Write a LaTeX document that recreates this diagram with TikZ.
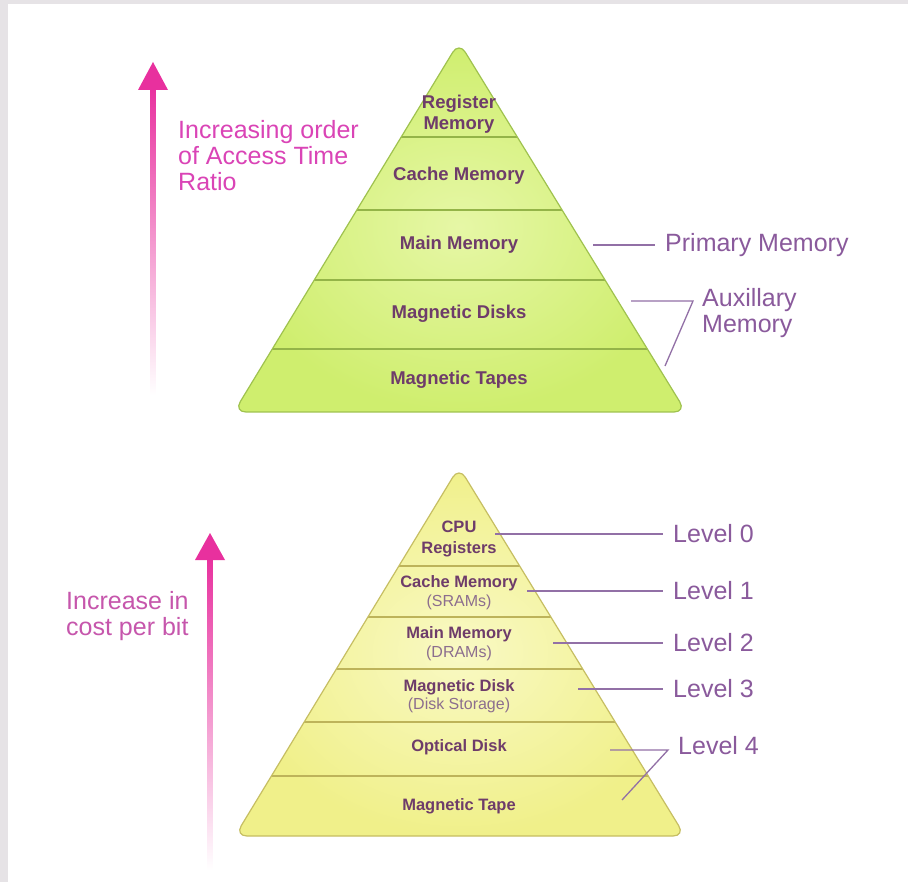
\documentclass[tikz,border=0pt]{standalone}
\usepackage{fontspec}
\setmainfont{Liberation Sans}
\definecolor{framegray}{HTML}{E6E3E6}
\definecolor{limeout}{HTML}{CFEE6E}
\definecolor{limein}{HTML}{E6F7A6}
\definecolor{limeedge}{HTML}{9FC24E}
\definecolor{limeband}{HTML}{94B448}
\definecolor{yelout}{HTML}{F0F08A}
\definecolor{yelin}{HTML}{F9F9C4}
\definecolor{yeledge}{HTML}{C6BE62}
\definecolor{yelband}{HTML}{BDB35A}
\definecolor{tiertext}{HTML}{6E3C6A}
\definecolor{subtext}{HTML}{8C6E8E}
\definecolor{labelpurple}{HTML}{8A5A9C}
\definecolor{leaderpurple}{HTML}{9270A6}
\definecolor{arrowmag}{HTML}{E8309E}
\definecolor{magtext}{HTML}{DA44B6}
\definecolor{magtextb}{HTML}{C656AC}
\tikzset{
  pyrtop/.style={line width=1.2pt, rounded corners=12pt,
    inner color=limein, outer color=limeout},
  pyrbot/.style={line width=1.2pt, rounded corners=12pt,
    inner color=yelin, outer color=yelout},
  bandtop/.style={draw=limeband, line width=1.3pt},
  bandbot/.style={draw=yelband, line width=1.3pt},
  tiertop/.style={font=\fontsize{18.5}{21}\selectfont\bfseries, text=tiertext,
    align=center, inner sep=0pt},
  tierbot/.style={font=\fontsize{16.5}{21}\selectfont\bfseries, text=tiertext,
    align=center, inner sep=0pt},
  tiersub/.style={font=\fontsize{16}{18}\selectfont, text=subtext,
    align=center, inner sep=0pt},
  sidelabel/.style={font=\fontsize{25}{26}\selectfont, text=labelpurple,
    anchor=west, align=left, inner xsep=10pt, inner ysep=0pt},
  leader/.style={draw=leaderpurple, line width=1.3pt},
  axislabel/.style={font=\fontsize{25}{26}\selectfont, anchor=west,
    align=left, inner sep=0pt},
}
\begin{document}
\begin{tikzpicture}[x=1pt,y=-1pt]
\useasboundingbox (0,0) rectangle (908,882);
% page background and frame
\fill[white] (0,0) rectangle (908,882);
\fill[framegray] (0,0) rectangle (908,4);
\fill[framegray] (0,0) rectangle (8,882);

% ---------- upper pyramid ----------
\coordinate (tA) at (459,42);
\coordinate (tL) at (234,412);
\coordinate (tR) at (686,412);
\path[pyrtop] (tA) -- (tR) -- (tL) -- cycle;
\begin{scope}
  \clip[rounded corners=12pt] (tA) -- (tR) -- (tL) -- cycle;
  \foreach \y in {137,210,280,349}
    \draw[bandtop] (200,\y) -- (720,\y);
\end{scope}
\path[draw=limeedge, line width=1.2pt, rounded corners=12pt] (tA) -- (tR) -- (tL) -- cycle;

\node[tiertop] (treg)  at (459,114) {Register\\Memory};
\node[tiertop] (tcache) at (459,176) {Cache Memory};
\node[tiertop] (tmain) at (459,245) {Main Memory};
\node[tiertop] (tdisk) at (459,314) {Magnetic Disks};
\node[tiertop] (ttape) at (459,380) {Magnetic Tapes};

% primary / auxiliary memory labels
\node[sidelabel] (prim) at (655,245) {Primary Memory};
\coordinate (primS) at (593,245);
\draw[leader] (primS) -- (prim.west);

\node[sidelabel] (aux) at (692,313) {Auxillary\\Memory};
\coordinate (auxS) at (631,301);
\coordinate (auxK) at (693,301);
\coordinate (auxE) at (665,366);
\draw[leader] (auxS) -- (auxK) -- (auxE);

% access time arrow
\coordinate (a1tip) at (153,62);
\coordinate (a1end) at (153,395);
\shade[top color=arrowmag, middle color=arrowmag!60, bottom color=white]
  (150.5,86) rectangle (155.5,395);
\fill[arrowmag] (a1tip) -- (168,90) -- (138,90) -- cycle;
\node[axislabel, text=magtext] (acc) at (178,156)
  {Increasing order\\of Access Time\\Ratio};

% ---------- lower pyramid ----------
\coordinate (bA) at (459,467);
\coordinate (bL) at (235,836);
\coordinate (bR) at (685,836);
\path[pyrbot] (bA) -- (bR) -- (bL) -- cycle;
\begin{scope}
  \clip[rounded corners=12pt] (bA) -- (bR) -- (bL) -- cycle;
  \foreach \y in {566,617,669,722,776}
    \draw[bandbot] (200,\y) -- (720,\y);
\end{scope}
\path[draw=yeledge, line width=1.2pt, rounded corners=12pt] (bA) -- (bR) -- (bL) -- cycle;

\node[tierbot] (bcpu) at (459,539) {CPU\\Registers};
\node[tierbot] (bcache) at (459,583) {Cache Memory};
\node[tiersub] (bsram) at (459,602) {(SRAMs)};
\node[tierbot] (bmain) at (459,634) {Main Memory};
\node[tiersub] (bdram) at (459,653) {(DRAMs)};
\node[tierbot] (bdisk) at (459,687) {Magnetic Disk};
\node[tiersub] (bstor) at (459,705) {(Disk Storage)};
\node[tierbot] (bopt) at (459,747) {Optical Disk};
\node[tierbot] (btape) at (459,806) {Magnetic Tape};

% level labels
\node[sidelabel] (lv0) at (663,534) {Level 0};
\node[sidelabel] (lv1) at (663,591) {Level 1};
\node[sidelabel] (lv2) at (663,643) {Level 2};
\node[sidelabel] (lv3) at (663,689) {Level 3};
\node[sidelabel] (lv4) at (668,746) {Level 4};
\coordinate (lv0S) at (495,534);
\coordinate (lv1S) at (527,591);
\coordinate (lv2S) at (553,643);
\coordinate (lv3S) at (578,689);
\coordinate (lv4S) at (610,750);
\coordinate (lv4K) at (668,750);
\coordinate (lv4E) at (622,800);
\draw[leader] (lv0S) -- (lv0.west);
\draw[leader] (lv1S) -- (lv1.west);
\draw[leader] (lv2S) -- (lv2.west);
\draw[leader] (lv3S) -- (lv3.west);
\draw[leader] (lv4S) -- (lv4K) -- (lv4E);

% cost per bit arrow
\coordinate (a2tip) at (210,533);
\coordinate (a2end) at (210,870);
\shade[top color=arrowmag, middle color=arrowmag!60, bottom color=white]
  (207.5,557) rectangle (212.5,870);
\fill[arrowmag] (a2tip) -- (225,560) -- (195,560) -- cycle;
\node[axislabel, text=magtextb] (cost) at (66,616) {Increase in\\cost per bit};
\end{tikzpicture}
\end{document}
